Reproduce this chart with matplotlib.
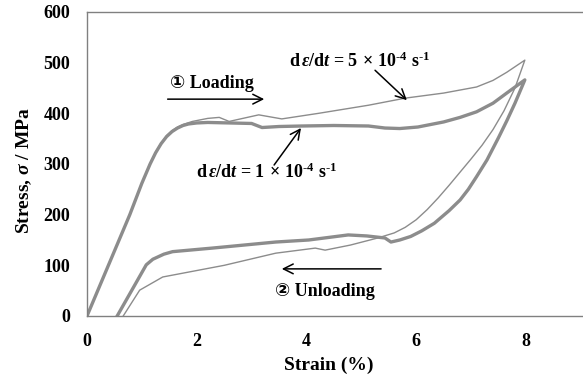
import matplotlib
matplotlib.use('Agg')
import matplotlib.pyplot as plt

plt.rcParams['font.family'] = ['Liberation Serif', 'DejaVu Sans']
plt.rcParams['font.weight'] = 'bold'
plt.rcParams['mathtext.fontset'] = 'custom'
plt.rcParams['mathtext.rm'] = 'Liberation Serif:bold'
plt.rcParams['mathtext.it'] = 'Liberation Serif:bold:italic'
plt.rcParams['mathtext.bf'] = 'Liberation Serif:bold'

# slow rate, d(eps)/dt = 1e-4 1/s (thick line)
slow_strain = [0, 0.39, 0.78, 1.0, 1.15, 1.25, 1.35, 1.45, 1.55, 1.65, 1.75, 1.85, 2.0, 2.2,
               2.6, 3.0, 3.19, 3.5, 3.92, 4.5, 5.13, 5.43, 5.7, 6.03, 6.5, 6.8, 7.1, 7.4,
               7.65, 7.98,
               7.8, 7.65, 7.5, 7.29, 7.1, 6.95, 6.8, 6.6, 6.33, 6.1, 5.9, 5.7, 5.54, 5.43,
               5.1, 4.76, 4.04, 3.44, 2.28, 1.56, 1.4, 1.2, 1.08, 0.55]
slow_stress = [0, 100, 200, 262, 300, 322, 340, 354, 364, 371, 376, 379, 381, 382,
               381, 380, 372, 374, 375, 376, 375, 371, 370, 373, 383, 392, 403, 420,
               440, 466,
               420, 385, 352, 308, 275, 250, 229, 208, 183, 168, 157, 150, 146, 154,
               158, 160, 150, 146, 134, 127, 122, 112, 101, 0]

# fast rate, d(eps)/dt = 5e-4 1/s (thin line)
fast_strain = [0, 0.39, 0.78, 1.0, 1.15, 1.25, 1.35, 1.45, 1.55, 1.65, 1.75, 1.92, 2.2,
               2.41, 2.59, 3.13, 3.55, 4.22, 5.13, 5.8, 6.5, 7.1, 7.4, 7.65, 7.98,
               7.8, 7.6, 7.4, 7.2, 7.0, 6.8, 6.6, 6.4, 6.2, 6.0, 5.8, 5.6, 5.3, 4.8, 4.34,
               4.16, 3.44, 2.5, 1.38, 0.96, 0.66]
fast_stress = [0, 100, 200, 262, 301, 323, 341, 356, 366, 373, 378, 384, 390,
               392, 384, 397, 389, 400, 416, 430, 440, 452, 465, 481, 505,
               450, 405, 368, 337, 310, 284, 258, 233, 210, 190, 175, 164, 154, 140, 130,
               134, 124, 100, 77, 51, 0]

x_ticks = [0, 2, 4, 6, 8]
y_ticks = [0, 100, 200, 300, 400, 500, 600]

fig = plt.figure(figsize=(5.83, 3.79), dpi=100)
ax = fig.add_axes([87 / 583, 63 / 379, 1 - 87 / 583, 304 / 379])

ax.plot(fast_strain, fast_stress, color='#8c8c8c', lw=1.0)
ax.plot(slow_strain, slow_stress, color='#8c8c8c', lw=2.4)

ax.set_xlim(0, 9.04)
ax.set_ylim(0, 600)
ax.set_xticks(x_ticks)
ax.set_yticks(y_ticks)
ax.tick_params(length=0, labelsize=13, pad=12)
for s in ['left', 'bottom', 'top']:
    ax.spines[s].set_color('#808080')
    ax.spines[s].set_linewidth(1.0)
ax.spines['right'].set_visible(False)

ax.text(-0.127, 0.477, r'Stress, $\sigma$ / MPa', transform=ax.transAxes, rotation=90,
        ha='center', va='center', fontsize=14)
ax.text(0.488, -0.161, 'Strain (%)', transform=ax.transAxes,
        ha='center', va='center', fontsize=14)

arrow = dict(arrowstyle='->,head_length=0.5,head_width=0.25', color='black', lw=1.1,
             mutation_scale=14, shrinkA=0, shrinkB=0)

ax.text(2.27, 458, '\u2460 Loading', ha='center', va='center', fontsize=13,
        family=['Liberation Serif', 'DejaVu Sans'])
ax.annotate('', xy=(3.23, 428), xytext=(1.47, 428), arrowprops=arrow)

ax.text(4.33, 49, '\u2461 Unloading', ha='center', va='center', fontsize=13,
        family=['Liberation Serif', 'DejaVu Sans'])
ax.annotate('', xy=(3.55, 93), xytext=(5.36, 93), arrowprops=arrow)

rate_fast = 'd$\\,\\varepsilon$/d$t$ = 5$\\,\\times\\,$10$^{\u20104}$ s$^{\u20101}$'
rate_slow = 'd$\\,\\varepsilon$/d$t$ = 1$\\,\\times\\,$10$^{\u20104}$ s$^{\u20101}$'

ax.text(4.96, 503, rate_fast, ha='center', va='center', fontsize=13)
ax.annotate('', xy=(5.83, 426), xytext=(5.25, 485), arrowprops=arrow)

ax.text(3.28, 284, rate_slow, ha='center', va='center', fontsize=13)
ax.annotate('', xy=(3.9, 371), xytext=(3.41, 298), arrowprops=arrow)

fig.savefig('out.png', dpi=100)
